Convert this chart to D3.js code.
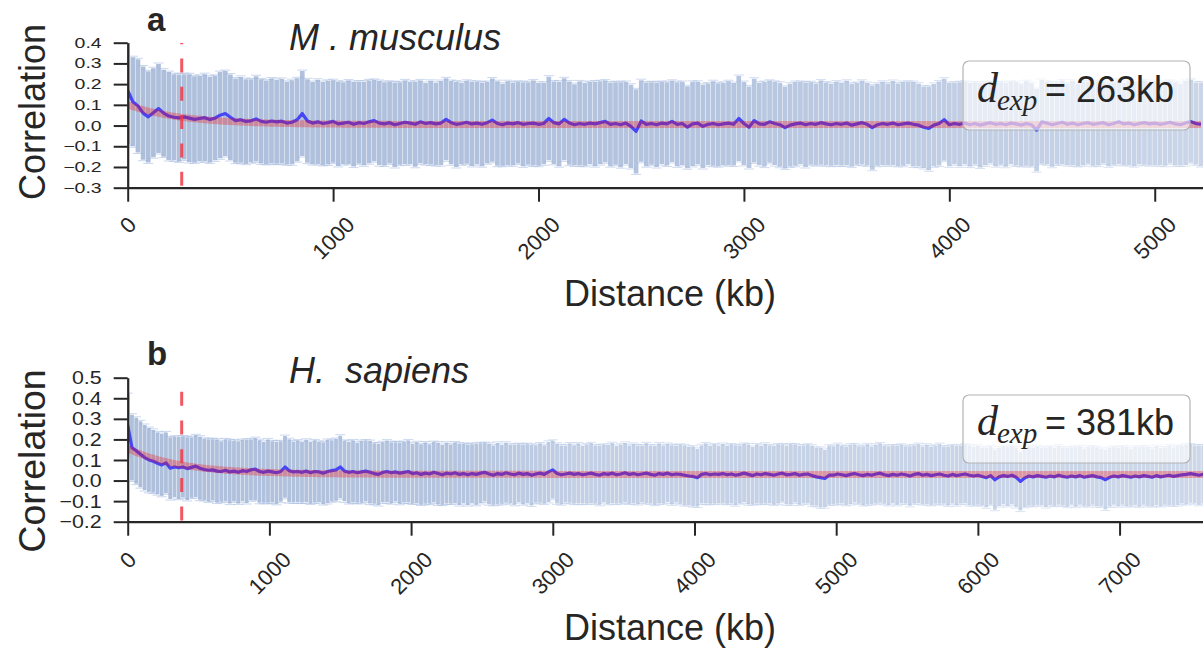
<!DOCTYPE html>
<html>
<head>
<meta charset="utf-8">
<script src="https://cdn.jsdelivr.net/npm/d3@7"></script>
<style>
  html, body { margin: 0; padding: 0; background: #fff; }
  svg { display: block; font-family: "Liberation Sans", Arial, Helvetica, sans-serif; }
  text { white-space: pre; }
</style>
</head>
<body>
<svg id="fig" width="1203" height="649"></svg>
<script>
// ---------- Mouse (M. musculus): binned correlation vs. distance ----------
const stepMouse = 25; // kb per bin
const meanMouse = [
  0.170, 0.115, 0.095, 0.060, 0.042, 0.062, 0.082, 0.060, 0.046, 0.040,
  0.037, 0.042, 0.036, 0.030, 0.034, 0.038, 0.029, 0.036, 0.050, 0.058,
  0.040, 0.024, 0.028, 0.020, 0.023, 0.032, 0.020, 0.016, 0.022, 0.018,
  0.021, 0.012, 0.016, 0.028, 0.058, 0.022, 0.012, 0.018, 0.010, 0.014,
  0.020, 0.008, 0.012, 0.016, 0.006, 0.014, 0.010, 0.018, 0.024, 0.012,
  0.008, 0.014, 0.004, 0.010, 0.016, 0.012, 0.006, 0.018, 0.010, 0.014,
  0.008, 0.012, 0.030, 0.014, 0.006, 0.010, 0.016, 0.008, 0.012, 0.006,
  0.014, 0.026, 0.010, 0.004, 0.012, 0.008, 0.014, 0.006, 0.010, 0.012,
  0.006, 0.010, 0.034, 0.014, 0.008, 0.030, 0.012, 0.004, 0.010, 0.006,
  0.012, 0.008, 0.014, 0.020, 0.006, 0.010, 0.004, 0.012, -0.004, -0.028,
  0.022, 0.006, 0.010, 0.004, 0.012, 0.008, 0.020, 0.006, 0.010, -0.008,
  0.008, 0.012, -0.004, 0.006, 0.010, 0.004, 0.008, 0.012, 0.006, 0.034,
  0.010, -0.008, 0.024, 0.008, 0.006, 0.018, 0.010, 0.004, -0.010, 0.002,
  0.008, 0.012, 0.004, 0.010, 0.006, 0.014, 0.008, 0.004, 0.010, 0.006,
  0.012, 0.002, 0.008, 0.014, 0.006, -0.010, 0.004, 0.010, 0.006, 0.012,
  0.004, 0.008, 0.012, 0.006, 0.002, -0.008, -0.014, 0.002, 0.010, 0.028,
  0.004, 0.010, 0.006, 0.012, 0.004, 0.010, 0.002, 0.008, 0.014, 0.006,
  0.010, 0.004, 0.012, 0.008, 0.002, 0.010, 0.004, -0.022, 0.018, 0.012,
  0.004, 0.010, 0.016, 0.006, 0.012, 0.004, 0.010, 0.014, 0.006, 0.010,
  0.014, 0.004, 0.010, 0.018, 0.008, 0.012, 0.004, 0.010, 0.014, 0.008,
  0.012, 0.006, 0.010, 0.016, 0.008, 0.004, 0.012, 0.020, 0.010, 0.006
];
const sdMouse = [
  0.260, 0.215, 0.225, 0.225, 0.220, 0.215, 0.215, 0.210, 0.212, 0.208,
  0.210, 0.206, 0.212, 0.208, 0.205, 0.210, 0.207, 0.204, 0.208, 0.205,
  0.206, 0.203, 0.207, 0.204, 0.200, 0.206, 0.203, 0.201, 0.205, 0.202,
  0.204, 0.199, 0.203, 0.200, 0.205, 0.201, 0.198, 0.203, 0.200, 0.202,
  0.199, 0.203, 0.197, 0.201, 0.204, 0.198, 0.202, 0.200, 0.196, 0.203,
  0.201, 0.197, 0.204, 0.199, 0.202, 0.198, 0.205, 0.200, 0.196, 0.202,
  0.199, 0.203, 0.198, 0.201, 0.206, 0.197, 0.200, 0.203, 0.199, 0.202,
  0.196, 0.201, 0.204, 0.198, 0.202, 0.200, 0.197, 0.203, 0.199, 0.205,
  0.200, 0.197, 0.202, 0.199, 0.204, 0.198, 0.201, 0.196, 0.203, 0.200,
  0.198, 0.204, 0.200, 0.197, 0.202, 0.199, 0.205, 0.198, 0.201, 0.203,
  0.197, 0.202, 0.199, 0.204, 0.198, 0.201, 0.196, 0.203, 0.200, 0.198,
  0.203, 0.199, 0.201, 0.197, 0.204, 0.200, 0.198, 0.202, 0.199, 0.205,
  0.200, 0.197, 0.202, 0.199, 0.204, 0.198, 0.201, 0.203, 0.197, 0.200,
  0.202, 0.198, 0.204, 0.199, 0.197, 0.203, 0.200, 0.198, 0.202, 0.199,
  0.204, 0.200, 0.197, 0.202, 0.199, 0.203, 0.198, 0.201, 0.197, 0.203,
  0.199, 0.202, 0.198, 0.204, 0.200, 0.197, 0.202, 0.199, 0.203, 0.198,
  0.201, 0.197, 0.203, 0.199, 0.202, 0.198, 0.204, 0.200, 0.196, 0.202,
  0.199, 0.203, 0.198, 0.201, 0.197, 0.204, 0.200, 0.198, 0.202, 0.199,
  0.203, 0.198, 0.201, 0.197, 0.204, 0.199, 0.202, 0.198, 0.200, 0.203,
  0.197, 0.201, 0.199, 0.204, 0.198, 0.202, 0.200, 0.197, 0.203, 0.199,
  0.202, 0.198, 0.204, 0.199, 0.201, 0.197, 0.203, 0.200, 0.198, 0.202
];
const dExpMouse = 263;               // kb, fitted decay length
const fitMouse = { amp: 0.095, base: 0.005 };
const xTicksMouse = [0, 1000, 2000, 3000, 4000, 5000];
const yTicksMouse = [-0.3, -0.2, -0.1, 0.0, 0.1, 0.2, 0.3, 0.4];

// ---------- Human (H. sapiens) ----------
const stepHuman = 30; // kb per bin
const meanHuman = [
  0.270, 0.160, 0.145, 0.128, 0.112, 0.100, 0.094, 0.084, 0.076, 0.086,
  0.060, 0.066, 0.062, 0.066, 0.058, 0.064, 0.070, 0.060, 0.054, 0.050,
  0.052, 0.046, 0.044, 0.050, 0.042, 0.046, 0.040, 0.048, 0.044, 0.052,
  0.056, 0.044, 0.040, 0.046, 0.042, 0.038, 0.044, 0.066, 0.048, 0.042,
  0.044, 0.040, 0.046, 0.038, 0.044, 0.042, 0.036, 0.044, 0.048, 0.052,
  0.066, 0.046, 0.040, 0.044, 0.038, 0.042, 0.046, 0.040, 0.034, 0.030,
  0.040, 0.044, 0.038, 0.042, 0.036, 0.040, 0.044, 0.034, 0.038, 0.030,
  0.036, 0.032, 0.040, 0.034, 0.028, 0.036, 0.032, 0.038, 0.030, 0.034,
  0.028, 0.034, 0.030, 0.036, 0.040, 0.032, 0.026, 0.034, 0.030, 0.038,
  0.032, 0.028, 0.036, 0.030, 0.034, 0.026, 0.032, 0.036, 0.030, 0.042,
  0.052, 0.034, 0.028, 0.032, 0.036, 0.030, 0.034, 0.028, 0.032, 0.036,
  0.030, 0.026, 0.034, 0.030, 0.036, 0.028, 0.032, 0.038, 0.030, 0.034,
  0.028, 0.032, 0.036, 0.030, 0.026, 0.034, 0.030, 0.036, 0.028, 0.032,
  0.030, 0.026, 0.022, 0.020, 0.014, 0.030, 0.034, 0.028, 0.032, 0.030,
  0.034, 0.028, 0.032, 0.026, 0.030, 0.036, 0.030, 0.024, 0.032, 0.028,
  0.034, 0.030, 0.026, 0.032, 0.036, 0.028, 0.030, 0.034, 0.026, 0.030,
  0.032, 0.024, 0.018, 0.014, 0.010, 0.026, 0.026, 0.032, 0.028, 0.024,
  0.030, 0.034, 0.028, 0.024, 0.030, 0.026, 0.032, 0.036, 0.028, 0.024,
  0.030, 0.026, 0.032, 0.028, 0.022, 0.030, 0.034, 0.026, 0.030, 0.024,
  0.028, 0.032, 0.026, 0.022, 0.030, 0.024, 0.028, 0.032, 0.026, 0.022,
  0.026, 0.020, 0.014, 0.024, 0.004, 0.018, 0.024, 0.020, 0.026, 0.016,
  -0.004, 0.012, 0.022, 0.018, 0.024, 0.020, 0.016, 0.022, 0.018, 0.026,
  0.020, 0.016, 0.022, 0.018, 0.024, 0.016, 0.020, 0.024, 0.018, 0.014,
  0.004, 0.016, 0.022, 0.018, 0.024, 0.020, 0.016, 0.022, 0.018, 0.024,
  0.020, 0.016, 0.024, 0.018, 0.022, 0.026, 0.020, 0.024, 0.028, 0.030,
  0.034, 0.030, 0.026, 0.030
];
const sdHuman = [
  0.150, 0.160, 0.160, 0.160, 0.158, 0.155, 0.152, 0.150, 0.150, 0.148,
  0.150, 0.146, 0.150, 0.148, 0.152, 0.147, 0.150, 0.153, 0.148, 0.151,
  0.149, 0.153, 0.147, 0.150, 0.154, 0.148, 0.151, 0.149, 0.153, 0.147,
  0.150, 0.152, 0.148, 0.154, 0.149, 0.151, 0.147, 0.150, 0.153, 0.148,
  0.150, 0.147, 0.152, 0.149, 0.151, 0.146, 0.150, 0.153, 0.148, 0.150,
  0.152, 0.147, 0.149, 0.151, 0.146, 0.150, 0.148, 0.152, 0.147, 0.149,
  0.146, 0.150, 0.148, 0.144, 0.149, 0.147, 0.151, 0.145, 0.148, 0.146,
  0.149, 0.144, 0.147, 0.150, 0.145, 0.148, 0.143, 0.147, 0.149, 0.144,
  0.147, 0.143, 0.148, 0.145, 0.142, 0.147, 0.144, 0.149, 0.143, 0.146,
  0.142, 0.146, 0.141, 0.145, 0.143, 0.147, 0.140, 0.144, 0.142, 0.146,
  0.141, 0.145, 0.143, 0.139, 0.144, 0.142, 0.146, 0.140, 0.143, 0.145,
  0.141, 0.144, 0.139, 0.143, 0.146, 0.140, 0.142, 0.145, 0.141, 0.144,
  0.142, 0.139, 0.145, 0.141, 0.143, 0.146, 0.140, 0.142, 0.144, 0.139,
  0.143, 0.145, 0.141, 0.144, 0.140, 0.142, 0.146, 0.141, 0.143, 0.139,
  0.144, 0.141, 0.143, 0.146, 0.140, 0.142, 0.145, 0.139, 0.143, 0.141,
  0.145, 0.140, 0.142, 0.144, 0.139, 0.143, 0.146, 0.141, 0.143, 0.140,
  0.142, 0.145, 0.141, 0.144, 0.139, 0.143, 0.141, 0.145, 0.140, 0.142,
  0.144, 0.141, 0.139, 0.143, 0.146, 0.140, 0.142, 0.144, 0.141, 0.143,
  0.140, 0.144, 0.142, 0.139, 0.145, 0.141, 0.143, 0.140, 0.144, 0.142,
  0.141, 0.145, 0.139, 0.143, 0.141, 0.144, 0.140, 0.142, 0.145, 0.141,
  0.143, 0.140, 0.144, 0.141, 0.146, 0.142, 0.139, 0.143, 0.141, 0.145,
  0.142, 0.140, 0.144, 0.141, 0.143, 0.139, 0.145, 0.142, 0.140, 0.144,
  0.141, 0.143, 0.140, 0.145, 0.142, 0.139, 0.144, 0.141, 0.143, 0.140,
  0.145, 0.142, 0.140, 0.143, 0.141, 0.144, 0.139, 0.142, 0.145, 0.141,
  0.143, 0.140, 0.144, 0.142, 0.139, 0.145, 0.141, 0.143, 0.140, 0.144,
  0.142, 0.140, 0.144, 0.141
];
const dExpHuman = 381;
const fitHuman = { amp: 0.125, base: 0.03 };
const xTicksHuman = [0, 1000, 2000, 3000, 4000, 5000, 6000, 7000];
const yTicksHuman = [-0.2, -0.1, 0.0, 0.1, 0.2, 0.3, 0.4, 0.5];

// ---------- layout ----------
const INK = "#262626";
const svg = d3.select("#fig");
const defs = svg.append("defs");

const panels = [
  {
    key: "a", species: "M . musculus", mean: meanMouse, sd: sdMouse, step: stepMouse,
    dExp: dExpMouse, fit: fitMouse, xTicks: xTicksMouse, yTicks: yTicksMouse,
    xDomain: [0, 5290], yDomain: [-0.3, 0.4],
    left: 127.7, right: 1214.3, top: 42.7, bottom: 187.7,
    yLabelSize: 19.5, yLabelScale: [1, 0.72], dashOffset: 26.3, dashGap: 14.3,
    xLabelTop: 215, xTitleY: 306, letterY: 30.5, speciesY: 50,
    yTitle: { cy: 112, size: 36 },
    legend: { x: 963, y: 61, w: 227, h: 69, base: 101.7 },
    fade: [[0, 0], [0.5, 0.08], [0.75, 0.22], [1, 0.35]]
  },
  {
    key: "b", species: "H.  sapiens", mean: meanHuman, sd: sdHuman, step: stepHuman,
    dExp: dExpHuman, fit: fitHuman, xTicks: xTicksHuman, yTicks: yTicksHuman,
    xDomain: [0, 7660], yDomain: [-0.2, 0.5],
    left: 127.7, right: 1213.1, top: 377.7, bottom: 521.7,
    yLabelSize: 20, yLabelScale: [1.07, 0.95], dashOffset: 27.6, dashGap: 14.7,
    xLabelTop: 550, xTitleY: 640, letterY: 365, speciesY: 383,
    yTitle: { cy: 461, size: 37.5 },
    legend: { x: 963, y: 395, w: 227, h: 68, base: 435 },
    fade: [[0, 0], [0.3, 0.08], [0.42, 0.25], [1, 0.38]]
  }
];

function drawPanel(p) {
  const x = d3.scaleLinear().domain(p.xDomain).range([p.left, p.right]);
  const y = d3.scaleLinear().domain(p.yDomain).range([p.bottom, p.top]);

  const rows = p.mean.map((m, i) => {
    const d = i * p.step;
    return { d, m, s: p.sd[i], f: p.fit.amp * Math.exp(-d / p.dExp) + p.fit.base };
  });

  const clipId = "clip-" + p.key;
  defs.append("clipPath").attr("id", clipId)
    .append("rect")
    .attr("x", p.left).attr("y", p.top)
    .attr("width", p.right - p.left).attr("height", p.bottom - p.top);

  const gradId = "fade-" + p.key;
  const grad = defs.append("linearGradient").attr("id", gradId)
    .attr("gradientUnits", "userSpaceOnUse")
    .attr("x1", p.left).attr("x2", 1203).attr("y1", 0).attr("y2", 0);
  p.fade.forEach(([o, a]) => grad.append("stop")
    .attr("offset", o).attr("stop-color", "#fff").attr("stop-opacity", a));

  const g = svg.append("g").attr("class", "panel-" + p.key);
  const plot = g.append("g").attr("clip-path", `url(#${clipId})`);

  // error bars: one vertical stroke per bin, mean ± sd
  const barW = x(p.step) - x(0);
  plot.append("g").selectAll("line").data(rows).join("line")
    .attr("x1", r => x(r.d)).attr("x2", r => x(r.d))
    .attr("y1", r => y(r.m - r.s)).attr("y2", r => y(r.m + r.s))
    .attr("stroke", "#aebfdc").attr("stroke-width", barW - 0.45);

  // error bar caps
  const caps = plot.append("g")
    .attr("stroke", "#9db4de").attr("stroke-opacity", 0.55).attr("stroke-width", 1);
  caps.selectAll("line.up").data(rows).join("line").attr("class", "up")
    .attr("x1", r => x(r.d) - 5).attr("x2", r => x(r.d) + 5)
    .attr("y1", r => y(r.m + r.s) - 1).attr("y2", r => y(r.m + r.s) - 1);
  caps.selectAll("line.lo").data(rows).join("line").attr("class", "lo")
    .attr("x1", r => x(r.d) - 5).attr("x2", r => x(r.d) + 5)
    .attr("y1", r => y(r.m - r.s) + 1).attr("y2", r => y(r.m - r.s) + 1);

  // lighter wash toward large distances
  plot.append("rect")
    .attr("x", p.left).attr("y", p.top)
    .attr("width", p.right - p.left).attr("height", p.bottom - p.top)
    .attr("fill", `url(#${gradId})`);

  // mean correlation
  plot.append("path").datum(rows)
    .attr("d", d3.line().x(r => x(r.d)).y(r => y(r.m)))
    .attr("fill", "none").attr("stroke", "#4646f6")
    .attr("stroke-width", 3.2).attr("stroke-linejoin", "round");

  // exponential fit
  plot.append("path").datum(rows)
    .attr("d", d3.line().x(r => x(r.d)).y(r => y(r.f)))
    .attr("fill", "none").attr("stroke", "#ff0000").attr("stroke-opacity", 0.28)
    .attr("stroke-width", 7);

  // decay length marker
  plot.append("line")
    .attr("x1", x(p.dExp)).attr("x2", x(p.dExp))
    .attr("y1", y(p.yDomain[0])).attr("y2", y(p.yDomain[1]))
    .attr("stroke", "#f03a46").attr("stroke-opacity", 0.85).attr("stroke-width", 3)
    .attr("stroke-dasharray", `14 ${p.dashGap}`).attr("stroke-dashoffset", p.dashOffset);

  // y axis
  const yAxis = g.append("g").attr("transform", `translate(${p.left},0)`)
    .call(d3.axisLeft(y).tickValues(p.yTicks).tickSize(14).tickSizeOuter(0)
      .tickPadding(12).tickFormat(d3.format(".1f")));
  yAxis.select(".domain").attr("stroke", INK).attr("stroke-width", 2.2);
  yAxis.selectAll(".tick line").attr("stroke", INK).attr("stroke-width", 2);
  yAxis.selectAll(".tick text")
    .attr("fill", INK).attr("font-size", p.yLabelSize)
    .attr("font-family", "'Liberation Sans', Arial, sans-serif")
    .attr("x", -26 / p.yLabelScale[0])
    .attr("transform", `scale(${p.yLabelScale[0]},${p.yLabelScale[1]})`);

  // x axis
  const xAxis = g.append("g").attr("transform", `translate(0,${p.bottom})`)
    .call(d3.axisBottom(x).tickValues(p.xTicks).tickSize(14).tickSizeOuter(0).tickFormat(""));
  xAxis.select(".domain").attr("stroke", INK).attr("stroke-width", 2.2);
  xAxis.selectAll(".tick line").attr("stroke", INK).attr("stroke-width", 2);

  // rotated x tick labels, box centred under each tick
  const fs = 22;
  p.xTicks.forEach(t => {
    const txt = g.append("text")
      .attr("font-size", fs).attr("fill", INK).attr("text-anchor", "middle")
      .attr("dy", "0.36em").text(String(t));
    const L = txt.node().getComputedTextLength();
    const half = (L + 0.72 * fs) / (2 * Math.SQRT2);
    txt.attr("transform", `translate(${x(t)},${p.xLabelTop + half}) rotate(-45)`);
  });

  // axis titles
  g.append("text")
    .attr("x", 670).attr("y", p.xTitleY)
    .attr("text-anchor", "middle").attr("font-size", 36).attr("fill", INK)
    .text("Distance (kb)");
  g.append("text")
    .attr("transform", `translate(45,${p.yTitle.cy}) rotate(-90)`)
    .attr("text-anchor", "middle").attr("font-size", p.yTitle.size).attr("fill", INK)
    .text("Correlation");

  // panel letter and species name
  g.append("text").attr("x", 147).attr("y", p.letterY)
    .attr("font-size", 33).attr("font-weight", "bold").attr("fill", INK).text(p.key);
  g.append("text").attr("x", 289).attr("y", p.speciesY)
    .attr("font-size", 36).attr("font-style", "italic").attr("fill", INK).text(p.species);

  // legend box with the decay length
  const lg = g.append("g");
  lg.append("rect")
    .attr("x", p.legend.x).attr("y", p.legend.y)
    .attr("width", p.legend.w).attr("height", p.legend.h).attr("rx", 6)
    .attr("fill", "#fff").attr("fill-opacity", 0.6)
    .attr("stroke", "#b3b3b3").attr("stroke-width", 1.2);
  lg.append("text").attr("x", p.legend.x + 14).attr("y", p.legend.base)
    .attr("font-family", "'Liberation Serif', 'DejaVu Serif', serif")
    .attr("font-style", "italic").attr("font-size", 42).attr("fill", INK).text("d");
  lg.append("text").attr("x", p.legend.x + 34).attr("y", p.legend.base + 8)
    .attr("font-family", "'Liberation Serif', 'DejaVu Serif', serif")
    .attr("font-style", "italic").attr("font-size", 29).attr("fill", INK).text("exp");
  lg.append("text").attr("x", p.legend.x + 82).attr("y", p.legend.base)
    .attr("font-size", 36).attr("fill", INK).text(`= ${p.dExp}kb`);
}

panels.forEach(drawPanel);
</script>
</body>
</html>
